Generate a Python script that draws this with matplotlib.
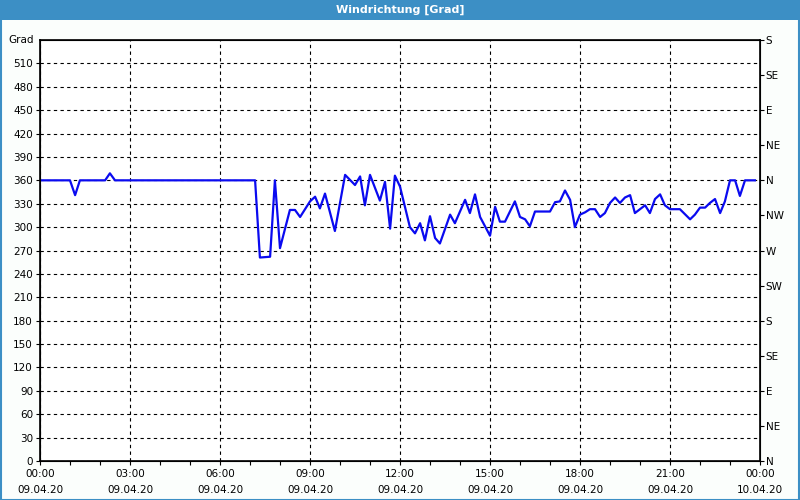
import matplotlib
matplotlib.use("Agg")
import matplotlib.pyplot as plt
from matplotlib.patches import Rectangle
from matplotlib.ticker import MultipleLocator

# time in hours since 09.04.20 00:00, wind direction in degrees
hours = [0.0, 1.0, 1.17, 1.33, 1.5, 2.17, 2.33, 2.5, 7.17, 7.33, 7.67, 7.83, 8.0,
         8.33, 8.5, 8.67, 9.0, 9.17, 9.33, 9.5, 9.83, 10.17, 10.5, 10.67, 10.83, 11.0,
         11.33, 11.5, 11.67, 11.83, 12.0, 12.33, 12.5, 12.67, 12.83, 13.0, 13.17, 13.33,
         13.67, 13.83, 14.17, 14.33, 14.5, 14.67, 15.0, 15.17, 15.33, 15.5, 15.83, 16.0,
         16.17, 16.33, 16.5, 17.0, 17.17, 17.33, 17.5, 17.67, 17.83, 18.0, 18.17, 18.33,
         18.5, 18.67, 18.83, 19.0, 19.17, 19.33, 19.5, 19.67, 19.83, 20.0, 20.17, 20.33,
         20.5, 20.67, 20.83, 21.0, 21.33, 21.67, 21.83, 22.0, 22.17, 22.33, 22.5, 22.67,
         22.83, 23.0, 23.17, 23.33, 23.5, 23.83]
direction = [360, 360, 341, 360, 360, 360, 369, 360, 360, 261, 262, 360, 273,
             322, 322, 313, 333, 339, 324, 343, 295, 367, 354, 365, 328, 367,
             334, 358, 298, 366, 352, 300, 292, 305, 283, 314, 286, 279,
             316, 305, 335, 318, 342, 313, 289, 326, 307, 307, 333, 313,
             310, 301, 320, 320, 332, 333, 347, 335, 300, 316, 319, 323,
             323, 313, 318, 331, 338, 331, 338, 341, 318, 323, 328, 318,
             336, 342, 328, 323, 323, 310, 316, 325, 325, 331, 336, 318,
             333, 360, 360, 340, 360, 360]

xtick_hours = [0, 3, 6, 9, 12, 15, 18, 21, 24]
xtick_labels = ["00:00\n09.04.20", "03:00\n09.04.20", "06:00\n09.04.20", "09:00\n09.04.20",
                "12:00\n09.04.20", "15:00\n09.04.20", "18:00\n09.04.20", "21:00\n09.04.20",
                "00:00\n10.04.20"]
ytick_values = list(range(0, 540, 30))
compass_values = list(range(0, 541, 45))
compass_labels = ["N", "NE", "E", "SE", "S", "SW", "W", "NW", "N", "NE", "E", "SE", "S"]

title = "Windrichtung [Grad]"
unit = "Grad"

bg = "#fbfefc"
bar = "#3c8fc5"

fig = plt.figure(figsize=(8, 5), dpi=100, facecolor=bg)
fig.patches.append(Rectangle((0.001, 0.001), 0.998, 0.998, transform=fig.transFigure,
                             fill=False, edgecolor=bar, linewidth=1.5))
fig.patches.append(Rectangle((0, 0.96), 1, 0.04, transform=fig.transFigure,
                             facecolor=bar, edgecolor="none"))
fig.text(0.5, 0.98, title, color="white", fontsize=8, fontweight="bold",
         ha="center", va="center")

ax = fig.add_axes([0.05, 0.078, 0.90, 0.842])
ax.set_facecolor("white")
ax.plot(hours, direction, color="#0a0af0", linewidth=1.6)

ax.set_xlim(0, 24)
ax.set_ylim(0, 540)
ax.set_xticks(xtick_hours)
ax.set_xticklabels(xtick_labels, fontsize=7.5, linespacing=1.75)
ax.xaxis.set_minor_locator(MultipleLocator(1))
ax.set_yticks(ytick_values)
ax.set_yticklabels([str(v) for v in ytick_values], fontsize=7.5)
ax.tick_params(axis="both", which="both", direction="out", length=3, width=0.8, pad=2)
ax.tick_params(axis="x", pad=3)

ax.grid(True, which="major", color="black", linestyle=(0, (3, 3)), linewidth=0.8)
for s in ax.spines.values():
    s.set_linewidth(1.2)

ax.text(-0.008, 540, unit, transform=ax.get_yaxis_transform(), ha="right",
        va="center", fontsize=7.5)

ax2 = ax.twinx()
ax2.set_ylim(0, 540)
ax2.set_yticks(compass_values)
ax2.set_yticklabels(compass_labels, fontsize=7.5)
ax2.tick_params(axis="y", direction="out", length=3, width=0.8, pad=1)

fig.savefig("out.png", dpi=100, facecolor=bg)
